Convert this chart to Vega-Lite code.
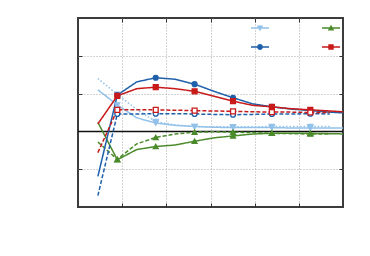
{
  "$schema": "https://vega.github.io/schema/vega-lite/v6.json",
  "width": 265,
  "height": 189,
  "autosize": {"type": "none"},
  "padding": {"left": 78, "top": 18, "right": 27, "bottom": 49},
  "config": {
    "view": {"stroke": "#3c3c3c", "strokeWidth": 2},
    "background": "white"
  },
  "data": {
    "values": [
      {"s":"lb","d":"solid","k":0,"x":0.45,"y":1.10},{"s":"lb","d":"solid","k":1,"x":0.89,"y":0.70},{"s":"lb","d":"solid","k":2,"x":1.33,"y":0.36},{"s":"lb","d":"solid","k":3,"x":1.76,"y":0.22},{"s":"lb","d":"solid","k":4,"x":2.2,"y":0.16},{"s":"lb","d":"solid","k":5,"x":2.64,"y":0.13},{"s":"lb","d":"solid","k":6,"x":3.08,"y":0.11},{"s":"lb","d":"solid","k":7,"x":3.51,"y":0.10},{"s":"lb","d":"solid","k":8,"x":3.95,"y":0.10},{"s":"lb","d":"solid","k":9,"x":4.39,"y":0.10},{"s":"lb","d":"solid","k":10,"x":4.83,"y":0.09},{"s":"lb","d":"solid","k":11,"x":5.26,"y":0.09},{"s":"lb","d":"solid","k":12,"x":5.7,"y":0.09},{"s":"lb","d":"solid","k":13,"x":6.14,"y":0.09},
      {"s":"lb","d":"dotted","k":0,"x":0.45,"y":1.40},{"s":"lb","d":"dotted","k":1,"x":0.89,"y":0.98},{"s":"lb","d":"dotted","k":2,"x":1.33,"y":0.58},{"s":"lb","d":"dotted","k":3,"x":1.76,"y":0.26},{"s":"lb","d":"dotted","k":4,"x":2.2,"y":0.17},{"s":"lb","d":"dotted","k":5,"x":2.64,"y":0.13},{"s":"lb","d":"dotted","k":6,"x":3.08,"y":0.12},{"s":"lb","d":"dotted","k":7,"x":3.51,"y":0.12},{"s":"lb","d":"dotted","k":8,"x":3.95,"y":0.12},{"s":"lb","d":"dotted","k":9,"x":4.39,"y":0.13},{"s":"lb","d":"dotted","k":10,"x":4.83,"y":0.13},{"s":"lb","d":"dotted","k":11,"x":5.26,"y":0.13},{"s":"lb","d":"dotted","k":12,"x":5.7,"y":0.13},
      {"s":"g","d":"solid","k":0,"x":0.45,"y":0.24},{"s":"g","d":"solid","k":1,"x":0.89,"y":-0.75},{"s":"g","d":"solid","k":2,"x":1.33,"y":-0.48},{"s":"g","d":"solid","k":3,"x":1.76,"y":-0.40},{"s":"g","d":"solid","k":4,"x":2.2,"y":-0.36},{"s":"g","d":"solid","k":5,"x":2.64,"y":-0.26},{"s":"g","d":"solid","k":6,"x":3.08,"y":-0.17},{"s":"g","d":"solid","k":7,"x":3.51,"y":-0.12},{"s":"g","d":"solid","k":8,"x":3.95,"y":-0.07},{"s":"g","d":"solid","k":9,"x":4.39,"y":-0.05},{"s":"g","d":"solid","k":10,"x":4.83,"y":-0.05},{"s":"g","d":"solid","k":11,"x":5.26,"y":-0.05},{"s":"g","d":"solid","k":12,"x":5.7,"y":-0.06},{"s":"g","d":"solid","k":13,"x":6.14,"y":-0.07},
      {"s":"g","d":"dashed","k":0,"x":0.45,"y":-0.28},{"s":"g","d":"dashed","k":1,"x":0.89,"y":-0.74},{"s":"g","d":"dashed","k":2,"x":1.33,"y":-0.33},{"s":"g","d":"dashed","k":3,"x":1.76,"y":-0.16},{"s":"g","d":"dashed","k":4,"x":2.2,"y":-0.07},{"s":"g","d":"dashed","k":5,"x":2.64,"y":-0.02},{"s":"g","d":"dashed","k":6,"x":3.08,"y":-0.01},{"s":"g","d":"dashed","k":7,"x":3.51,"y":-0.02},{"s":"g","d":"dashed","k":8,"x":3.95,"y":-0.03},{"s":"g","d":"dashed","k":9,"x":4.39,"y":-0.05},{"s":"g","d":"dashed","k":10,"x":4.83,"y":-0.06},{"s":"g","d":"dashed","k":11,"x":5.26,"y":-0.07},{"s":"g","d":"dashed","k":12,"x":5.7,"y":-0.07},
      {"s":"b","d":"solid","k":0,"x":0.45,"y":-1.19},{"s":"b","d":"solid","k":1,"x":0.89,"y":0.96},{"s":"b","d":"solid","k":2,"x":1.33,"y":1.31},{"s":"b","d":"solid","k":3,"x":1.76,"y":1.42},{"s":"b","d":"solid","k":4,"x":2.2,"y":1.38},{"s":"b","d":"solid","k":5,"x":2.64,"y":1.25},{"s":"b","d":"solid","k":6,"x":3.08,"y":1.06},{"s":"b","d":"solid","k":7,"x":3.51,"y":0.89},{"s":"b","d":"solid","k":8,"x":3.95,"y":0.73},{"s":"b","d":"solid","k":9,"x":4.39,"y":0.65},{"s":"b","d":"solid","k":10,"x":4.83,"y":0.59},{"s":"b","d":"solid","k":11,"x":5.26,"y":0.55},{"s":"b","d":"solid","k":12,"x":5.7,"y":0.51},{"s":"b","d":"solid","k":13,"x":6.14,"y":0.48},
      {"s":"b","d":"dashed","k":0,"x":0.45,"y":-1.70},{"s":"b","d":"dashed","k":1,"x":0.89,"y":0.46},{"s":"b","d":"dashed","k":2,"x":1.33,"y":0.46},{"s":"b","d":"dashed","k":3,"x":1.76,"y":0.47},{"s":"b","d":"dashed","k":4,"x":2.2,"y":0.47},{"s":"b","d":"dashed","k":5,"x":2.64,"y":0.46},{"s":"b","d":"dashed","k":6,"x":3.08,"y":0.45},{"s":"b","d":"dashed","k":7,"x":3.51,"y":0.44},{"s":"b","d":"dashed","k":8,"x":3.95,"y":0.45},{"s":"b","d":"dashed","k":9,"x":4.39,"y":0.46},{"s":"b","d":"dashed","k":10,"x":4.83,"y":0.46},{"s":"b","d":"dashed","k":11,"x":5.26,"y":0.47},{"s":"b","d":"dashed","k":12,"x":5.7,"y":0.46},
      {"s":"r","d":"solid","k":0,"x":0.45,"y":0.20},{"s":"r","d":"solid","k":1,"x":0.89,"y":0.94},{"s":"r","d":"solid","k":2,"x":1.33,"y":1.13},{"s":"r","d":"solid","k":3,"x":1.76,"y":1.17},{"s":"r","d":"solid","k":4,"x":2.2,"y":1.13},{"s":"r","d":"solid","k":5,"x":2.64,"y":1.06},{"s":"r","d":"solid","k":6,"x":3.08,"y":0.93},{"s":"r","d":"solid","k":7,"x":3.51,"y":0.80},{"s":"r","d":"solid","k":8,"x":3.95,"y":0.69},{"s":"r","d":"solid","k":9,"x":4.39,"y":0.65},{"s":"r","d":"solid","k":10,"x":4.83,"y":0.60},{"s":"r","d":"solid","k":11,"x":5.26,"y":0.57},{"s":"r","d":"solid","k":12,"x":5.7,"y":0.54},{"s":"r","d":"solid","k":13,"x":6.14,"y":0.51},
      {"s":"r","d":"dashed","k":0,"x":0.45,"y":-0.56},{"s":"r","d":"dashed","k":1,"x":0.89,"y":0.57},{"s":"r","d":"dashed","k":2,"x":1.33,"y":0.57},{"s":"r","d":"dashed","k":3,"x":1.76,"y":0.57},{"s":"r","d":"dashed","k":4,"x":2.2,"y":0.56},{"s":"r","d":"dashed","k":5,"x":2.64,"y":0.55},{"s":"r","d":"dashed","k":6,"x":3.08,"y":0.54},{"s":"r","d":"dashed","k":7,"x":3.51,"y":0.53},{"s":"r","d":"dashed","k":8,"x":3.95,"y":0.52},{"s":"r","d":"dashed","k":9,"x":4.39,"y":0.51},{"s":"r","d":"dashed","k":10,"x":4.83,"y":0.51},{"s":"r","d":"dashed","k":11,"x":5.26,"y":0.50},{"s":"r","d":"dashed","k":12,"x":5.7,"y":0.50}
    ]
  },
  "layer": [
    {
      "data": {"values": [{"y": 0}]},
      "mark": {"type": "rule", "color": "#111", "strokeWidth": 1.5},
      "encoding": {
        "y": {"field": "y", "type": "quantitative", "scale": {"domain": [-2, 3], "nice": false},
          "axis": {"orient": "left", "grid": true, "gridColor": "#a8a8a8", "gridDash": [1, 2], "gridWidth": 1, "labels": false, "domain": false, "title": null, "values": [-1, 0, 1, 2], "tickSize": -4, "tickColor": "#333", "tickWidth": 1}}
      }
    },
    {
      "mark": {"type": "line", "strokeWidth": 1.5, "clip": true},
      "encoding": {
        "x": {"field": "x", "type": "quantitative", "scale": {"domain": [0, 6], "nice": false},
          "axis": {"orient": "bottom", "grid": true, "gridColor": "#a8a8a8", "gridDash": [1, 2], "gridWidth": 1, "labels": false, "domain": false, "title": null, "values": [1, 2, 3, 4, 5], "tickSize": -4, "tickColor": "#333", "tickWidth": 1}},
        "y": {"field": "y", "type": "quantitative", "scale": {"domain": [-2, 3], "nice": false}, "axis": null},
        "color": {"field": "s", "type": "nominal", "scale": {"domain": ["lb", "g", "b", "r"], "range": ["#92c1e9", "#4b8b2b", "#1f60aa", "#c81a1a"]}, "legend": null},
        "strokeDash": {"field": "d", "type": "nominal", "scale": {"domain": ["solid", "dashed", "dotted"], "range": [[1, 0], [4, 2], [1.5, 2]]}, "legend": null},
        "order": {"field": "k", "type": "quantitative"}
      }
    },
    {
      "transform": [{"filter": "datum.k % 2 == 1"}],
      "mark": {"type": "point", "filled": true, "size": 24, "strokeWidth": 1.3, "opacity": 1, "clip": true},
      "encoding": {
        "x": {"field": "x", "type": "quantitative", "scale": {"domain": [0, 6], "nice": false},
          "axis": {"orient": "top", "grid": false, "labels": false, "domain": false, "title": null, "values": [1, 2, 3, 4, 5], "tickSize": -4, "tickColor": "#333", "tickWidth": 1}},
        "y": {"field": "y", "type": "quantitative", "scale": {"domain": [-2, 3], "nice": false},
          "axis": {"orient": "right", "grid": false, "labels": false, "domain": false, "title": null, "values": [-1, 0, 1, 2], "tickSize": -4, "tickColor": "#333", "tickWidth": 1}},
        "fill": {"condition": {"test": "datum.d == 'dashed' && (datum.s == 'b' || datum.s == 'r')", "value": "white"}, "field": "s", "type": "nominal", "scale": {"domain": ["lb", "g", "b", "r"], "range": ["#92c1e9", "#4b8b2b", "#1f60aa", "#c81a1a"]}, "legend": null},
        "stroke": {"field": "s", "type": "nominal", "scale": {"domain": ["lb", "g", "b", "r"], "range": ["#92c1e9", "#4b8b2b", "#1f60aa", "#c81a1a"]}, "legend": null},
        "shape": {"field": "s", "type": "nominal", "scale": {"domain": ["lb", "g", "b", "r"], "range": ["triangle-down", "triangle-up", "circle", "square"]}, "legend": null}
      }
    },
    {
      "transform": [{"filter": "false"}],
      "mark": {"type": "point", "filled": true, "opacity": 1},
      "encoding": {
        "x": {"field": "x", "type": "quantitative", "axis": null},
        "y": {"field": "y", "type": "quantitative", "axis": null},
        "fill": {"field": "s", "type": "nominal", "scale": {"domain": ["lb", "g", "b", "r"], "range": ["#92c1e9", "#4b8b2b", "#1f60aa", "#c81a1a"]},
          "legend": {"orient": "none", "direction": "horizontal", "legendX": 177, "legendY": 5, "columns": 2, "title": null, "labelExpr": "''", "symbolSize": 16, "symbolStrokeWidth": 0, "columnPadding": 53, "rowPadding": 9, "labelOffset": 0, "padding": 0, "symbolOffset": 0}},
        "shape": {"field": "s", "type": "nominal", "scale": {"domain": ["lb", "g", "b", "r"], "range": ["M-4.5,-0.37H4.5V0.37H-4.5ZM-1.6,-1.2L1.6,-1.2L0,1.6Z", "M-4.5,-0.37H4.5V0.37H-4.5ZM1.6,1.2L-1.6,1.2L0,-1.6Z", "M-4.5,-0.37H4.5V0.37H-4.5ZM1.45,0A1.45,1.45,0,1,1,-1.45,0A1.45,1.45,0,1,1,1.45,0Z", "M-4.5,-0.37H4.5V0.37H-4.5ZM-1.35,-1.35H1.35V1.35H-1.35Z"]},
          "legend": {"orient": "none", "direction": "horizontal", "legendX": 177, "legendY": 5, "columns": 2, "title": null, "labelExpr": "''", "symbolSize": 16, "symbolStrokeWidth": 0, "columnPadding": 53, "rowPadding": 9, "labelOffset": 0, "padding": 0, "symbolOffset": 0}}
      }
    }
  ],
  "resolve": {
    "scale": {"color": "independent", "fill": "independent", "stroke": "independent", "shape": "independent", "strokeDash": "independent"},
    "axis": {"x": "independent", "y": "independent"}
  }
}
